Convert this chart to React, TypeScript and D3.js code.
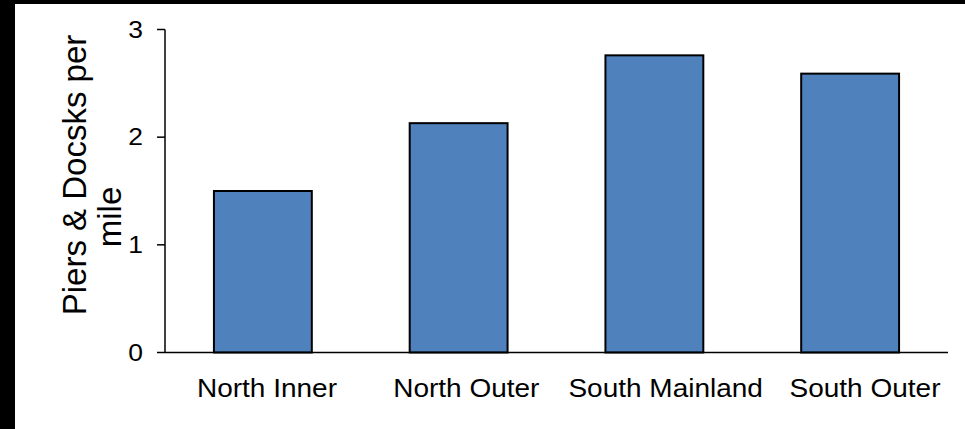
import * as d3 from "d3";

const categories = ["North Inner", "North Outer", "South Mainland", "South Outer"];
const values = [1.5, 2.13, 2.76, 2.59];
const yTicks = [0, 1, 2, 3];
const titleLines = ["Piers & Docsks per", "mile"];

const W = 965;
const H = 429;
const FONT = "'Liberation Sans', Arial, sans-serif";

const App = () => {
  const x = d3
    .scaleBand<string>()
    .domain(categories)
    .range([165, 948])
    .paddingInner(0.5)
    .paddingOuter(0.25);
  // category labels sit a little wider apart than the bars in the original
  const xLabel = d3.scalePoint<string>().domain(categories).range([267, 865]);
  const y = d3.scaleLinear().domain([0, 3]).range([352.5, 29.5]);

  return (
    <svg
      width={W}
      height={H}
      viewBox={`0 0 ${W} ${H}`}
      style={{ position: "absolute", left: 0, top: 0, display: "block" }}
    >
      <rect width={W} height={H} fill="#000" />
      <rect x={15} y={4} width={W - 15} height={H - 4} fill="#fff" />

      {categories.map((c, i) => (
        <rect
          key={c}
          x={x(c)}
          y={y(values[i])}
          width={x.bandwidth()}
          height={y(0) - y(values[i])}
          fill="#4f81bd"
          stroke="#000"
          strokeWidth={2}
        />
      ))}

      {/* y axis */}
      <line x1={165} x2={165} y1={y(3)} y2={y(0)} stroke="#000" strokeWidth={1.5} />
      {yTicks.map((t) => (
        <g key={t}>
          <line x1={157} x2={165} y1={y(t)} y2={y(t)} stroke="#000" strokeWidth={1.5} />
          <text
            transform={`translate(143,${y(t)}) scale(1.15,1)`}
            dy="0.36em"
            textAnchor="end"
            fontFamily={FONT}
            fontSize={23}
            fill="#000"
          >
            {t}
          </text>
        </g>
      ))}

      {/* x axis */}
      <line x1={165} x2={948} y1={y(0)} y2={y(0)} stroke="#000" strokeWidth={1.5} />
      {categories.map((c) => (
        <text
          key={c}
          transform={`translate(${xLabel(c)},397) scale(1.12,1)`}
          textAnchor="middle"
          fontFamily={FONT}
          fontSize={25}
          fill="#000"
        >
          {c}
        </text>
      ))}

      {/* y title */}
      <text
        transform="translate(86,175) rotate(-90)"
        textAnchor="middle"
        fontFamily={FONT}
        fontSize={33}
        fill="#000"
      >
        {titleLines[0]}
      </text>
      <text
        transform="translate(121,217) rotate(-90)"
        textAnchor="middle"
        fontFamily={FONT}
        fontSize={33}
        fill="#000"
      >
        {titleLines[1]}
      </text>
    </svg>
  );
};

export default App;
